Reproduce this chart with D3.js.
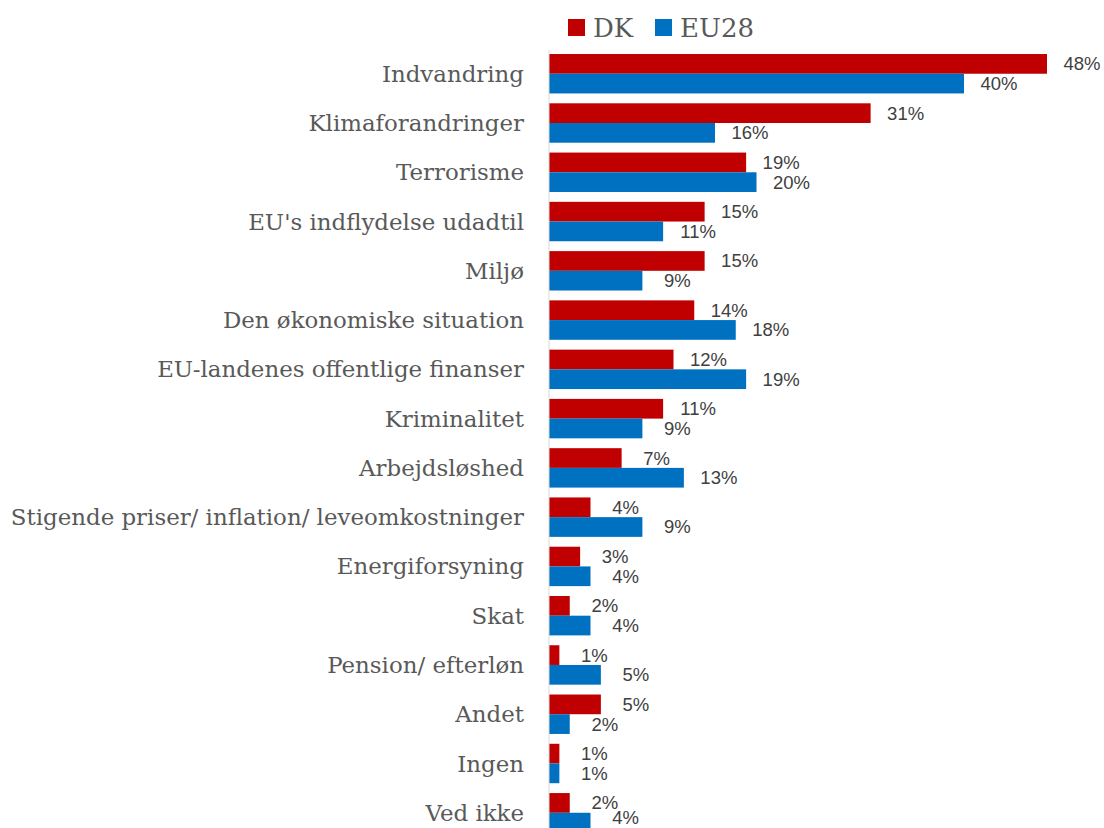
<!DOCTYPE html>
<html>
<head>
<meta charset="utf-8">
<script src="https://cdn.jsdelivr.net/npm/d3@7"></script>
<style>
  body { margin: 0; background: #fff; }
</style>
</head>
<body>
<div id="chart"></div>
<script>
// data
var categories = ["Indvandring", "Klimaforandringer", "Terrorisme", "EU's indflydelse udadtil", "Miljø",
  "Den økonomiske situation", "EU-landenes offentlige finanser", "Kriminalitet", "Arbejdsløshed",
  "Stigende priser/ inflation/ leveomkostninger", "Energiforsyning", "Skat", "Pension/ efterløn",
  "Andet", "Ingen", "Ved ikke"];
var seriesNames = ["DK", "EU28"];
var dkValues = [48, 31, 19, 15, 15, 14, 12, 11, 7, 4, 3, 2, 1, 5, 1, 2];
var euValues = [40, 16, 20, 11, 9, 18, 19, 9, 13, 9, 4, 4, 5, 2, 1, 4];
var colors = ["#C00000", "#0070C0"];

var width = 1104, height = 828;

var svg = d3.select("#chart")
  .append("svg")
    .attr("width", width)
    .attr("height", height);

// scales
var x = d3.scaleLinear()
  .domain([0, 48])
  .range([549, 1047]);

var y = d3.scaleBand()
  .domain(categories)
  .range([49.1, 837.4])
  .paddingInner(0.2)
  .paddingOuter(0.1);

var ySub = d3.scaleBand()
  .domain(seriesNames)
  .range([0, y.bandwidth()]);

var rows = categories.map(function(c, i) {
  return {name: c, values: [
    {series: "DK", value: dkValues[i]},
    {series: "EU28", value: euValues[i]}
  ]};
});

// category labels
svg.append("g")
  .selectAll("text")
  .data(categories)
  .enter()
  .append("text")
    .attr("x", 524)
    .attr("y", function(d){ return y(d) + y.bandwidth() / 2; })
    .attr("dy", "0.35em")
    .attr("text-anchor", "end")
    .attr("font-family", "'DejaVu Serif', serif")
    .attr("font-size", "22.9px")
    .attr("fill", "#595959")
    .text(function(d){ return d; });

// bars
var groups = svg.append("g")
  .selectAll("g")
  .data(rows)
  .enter()
  .append("g")
    .attr("transform", function(d){ return "translate(0," + y(d.name) + ")"; });

groups.selectAll("rect")
  .data(function(d){ return d.values; })
  .enter()
  .append("rect")
    .attr("x", x(0))
    .attr("y", function(d){ return ySub(d.series); })
    .attr("width", function(d){ return x(d.value) - x(0); })
    .attr("height", ySub.bandwidth())
    .style("fill", function(d){ return colors[seriesNames.indexOf(d.series)]; });

// value labels (kept inside the picture at the bottom edge)
groups.each(function(row) {
  var top = y(row.name);
  d3.select(this).selectAll("text")
    .data(row.values)
    .enter()
    .append("text")
      .attr("x", function(d){ return x(d.value) + 35; })
      .attr("y", function(d){
        var cy = ySub(d.series) + ySub.bandwidth() / 2;
        return Math.min(cy, height - 10 - top);
      })
      .attr("dy", "0.35em")
      .attr("text-anchor", "middle")
      .attr("font-family", "'Liberation Sans', Arial, sans-serif")
      .attr("font-size", "18.5px")
      .attr("fill", "#404040")
      .text(function(d){ return d.value + "%"; });
});

// axis line
svg.append("line")
  .attr("x1", x(0)).attr("x2", x(0))
  .attr("y1", y(categories[0]) - 4).attr("y2", height)
  .style("stroke", "#D9D9D9")
  .style("stroke-width", 1);

// legend
var legendX = [568, 655];
var legend = svg.append("g")
  .selectAll("g")
  .data(seriesNames)
  .enter()
  .append("g")
    .attr("transform", function(d, i){ return "translate(" + legendX[i] + ",19)"; });

legend.append("rect")
  .attr("width", 17)
  .attr("height", 17)
  .style("fill", function(d, i){ return colors[i]; });

legend.append("text")
  .attr("x", 25)
  .attr("y", 9)
  .attr("dy", "0.35em")
  .attr("font-family", "'DejaVu Serif', serif")
  .attr("font-size", "26px")
  .attr("fill", "#595959")
  .text(function(d){ return d; });
</script>
</body>
</html>
